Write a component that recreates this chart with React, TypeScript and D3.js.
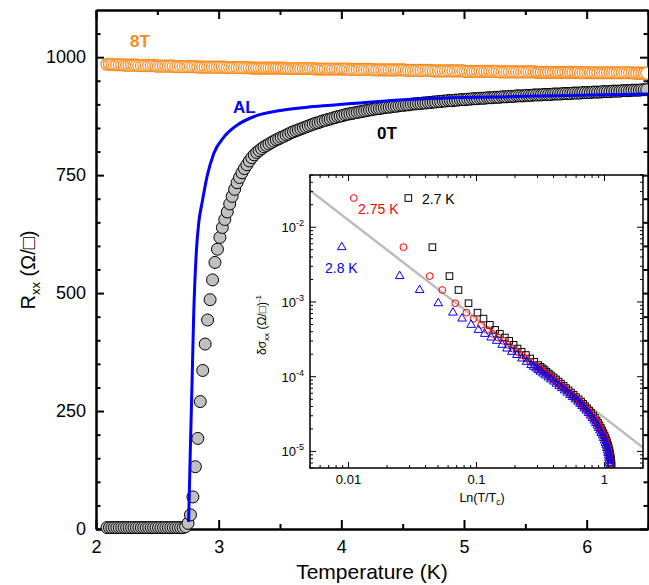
import { useEffect, useRef } from "react";
import * as d3 from "d3";

const WIDTH = 649;
const HEIGHT = 585;
const FONT = "'Liberation Sans', Arial, Helvetica, sans-serif";

// main panel: R_xx (ohm) sampled every 0.02 K starting at 2.09 K
const gridStart = 2.09;
const gridStep = 0.02;

const r8T = [
  985, 985, 985, 984, 984, 984, 984, 983, 983, 983,
  983, 983, 983, 982, 982, 982, 982, 982, 982, 982,
  981, 981, 981, 981, 981, 981, 981, 981, 980, 980,
  980, 980, 980, 980, 980, 980, 980, 979, 979, 979,
  979, 979, 979, 979, 979, 979, 979, 979, 979, 978,
  978, 978, 978, 978, 978, 978, 978, 978, 978, 977,
  977, 977, 977, 977, 977, 977, 977, 977, 977, 977,
  977, 977, 977, 976, 976, 976, 976, 976, 976, 976,
  976, 976, 976, 976, 976, 975, 975, 975, 975, 975,
  975, 975, 975, 975, 975, 975, 975, 975, 975, 974,
  974, 974, 974, 974, 974, 974, 974, 974, 974, 973,
  973, 973, 973, 973, 973, 973, 973, 973, 973, 973,
  973, 973, 972, 972, 972, 972, 972, 972, 972, 972,
  972, 972, 972, 971, 971, 971, 971, 971, 971, 971,
  971, 971, 971, 971, 971, 971, 970, 970, 970, 970,
  970, 970, 970, 970, 970, 970, 970, 970, 970, 970,
  969, 969, 969, 969, 969, 969, 969, 969, 969, 969,
  969, 969, 969, 969, 969, 968, 968, 968, 968, 968,
  968, 968, 968, 968, 968, 968, 968, 968, 968, 968,
  968, 968, 968, 967, 967, 967, 967, 967, 967, 967,
  967, 967, 967, 967, 967, 967, 967, 967, 967, 967,
  967, 967, 967, 967, 967, 966, 966, 966, 966, 966,
  966,
];

const r0T = [
  3, 3, 3, 3, 3, 3, 3, 3, 3, 3,
  3, 3, 3, 3, 3, 3, 3, 3, 3, 3,
  3, 3, 3, 3, 3, 3, 3, 3, 3, 3,
  3, 3, 5, 12, 30, 68, 132, 192, 270, 336,
  392, 443, 486, 528, 565, 593, 618, 639, 656, 672,
  689, 705, 720, 734, 745, 755, 764, 772, 780, 787,
  793, 798, 802, 806, 810, 813, 816, 819, 822, 825,
  827, 830, 832, 835, 837, 840, 842, 844, 846, 848,
  850, 852, 854, 856, 858, 860, 861, 863, 865, 866,
  868, 869, 871, 872, 874, 875, 876, 878, 879, 880,
  881, 882, 883, 884, 885, 886, 887, 888, 889, 890,
  891, 891, 892, 893, 894, 894, 895, 896, 896, 897,
  898, 898, 899, 899, 900, 901, 901, 902, 902, 903,
  903, 904, 904, 905, 905, 906, 906, 907, 907, 908,
  908, 908, 909, 909, 910, 910, 910, 911, 911, 912,
  912, 912, 913, 913, 913, 914, 914, 914, 915, 915,
  915, 916, 916, 916, 917, 917, 917, 918, 918, 918,
  918, 919, 919, 919, 920, 920, 920, 920, 921, 921,
  921, 921, 922, 922, 922, 922, 923, 923, 923, 923,
  924, 924, 924, 924, 925, 925, 925, 925, 926, 926,
  926, 926, 927, 927, 927, 927, 928, 928, 928, 928,
  929, 929, 929, 929, 930, 930, 930, 930, 931, 931,
  931,
];

// Aslamazov-Larkin fit, [T (K), R (ohm)]
const alCurve: [number, number][] = [
  [2.755, 15], [2.769, 168], [2.783, 310], [2.796, 450], [2.818, 588],
  [2.838, 650], [2.865, 692], [2.906, 748], [2.96, 796], [3.041, 830],
  [3.151, 856], [3.287, 874], [3.505, 887], [3.724, 894], [3.914, 898],
  [4.511, 910], [5.5, 917], [6.5, 922],
];

const xMajor = [2, 3, 4, 5, 6];
const xMinor = [2.5, 3.5, 4.5, 5.5, 6.5];
const yMajor = [0, 250, 500, 750, 1000];

// inset: fluctuation conductivity vs ln(T/Tc), same data for three Tc choices
const insetT = [
  2.7804, 2.8249, 2.8712, 2.9025, 2.9443, 2.9894, 3.0243, 3.066, 3.1052, 3.1439,
  3.1892, 3.2325, 3.2811, 3.3293, 3.3817, 3.4435, 3.5116, 3.5815, 3.6579, 3.7044,
  3.7509, 3.795, 3.8393, 3.897, 3.9551, 4.028, 4.1005, 4.183, 4.2648, 4.359,
  4.4531, 4.561, 4.6688, 4.793, 4.9165, 5.06, 5.2028, 5.333, 5.463, 5.612,
  5.7603, 5.927, 6.0945, 6.261, 6.4275, 6.586, 6.7449, 6.89, 7.0356, 7.195,
  7.3542, 7.491, 7.6276, 7.738, 7.8481, 7.949, 8.05, 8.13, 8.2093, 8.269,
  8.3283, 8.372, 8.4146,
];
const insetSigma = [
  0.0246, 0.00541, 0.00222, 0.001445, 0.000961, 0.00072, 0.000599, 0.000494, 0.000423, 0.000374,
  0.000334, 0.000302, 0.000267, 0.000238, 0.000215, 0.000195, 0.000175, 0.000158, 0.000143, 1.358e-4,
  1.29e-4, 1.226e-4, 1.166e-4, 1.102e-4, 1.041e-4, 9.79e-5, 9.2e-5, 8.62e-5, 8.07e-5, 7.53e-5,
  7.03e-5, 6.56e-5, 6.12e-5, 5.71e-5, 5.33e-5, 4.97e-5, 4.64e-5, 4.33e-5, 4.04e-5, 3.77e-5,
  3.52e-5, 3.26e-5, 3.02e-5, 2.8e-5, 2.59e-5, 2.4e-5, 2.22e-5, 2.06e-5, 1.905e-5, 1.764e-5,
  1.634e-5, 1.512e-5, 1.4e-5, 1.297e-5, 1.202e-5, 1.113e-5, 1.031e-5, 9.55e-6, 8.84e-6, 8.19e-6,
  7.59e-6, 7.03e-6, 6.51e-6,
];
const insetSeries = [
  { label: "2.7 K", tc: 2.7, color: "#000000", shape: "square", lx: 422, ly: 204 },
  { label: "2.75 K", tc: 2.75, color: "#ff0000", shape: "circle", lx: 358, ly: 214 },
  { label: "2.8 K", tc: 2.8, color: "#0000ff", shape: "triangle", lx: 325, ly: 273 },
];
const fitLine: [number, number][] = [
  [0.005, 0.0311],
  [2, 1.13e-5],
];
const insetXLabels = [0.01, 0.1, 1];
const insetYLabels = [1e-2, 1e-3, 1e-4, 1e-5];

const logTicks = (lo: number, hi: number) => {
  const out: { v: number; major: boolean }[] = [];
  for (let e = Math.floor(Math.log10(lo)); e <= Math.ceil(Math.log10(hi)); e++) {
    for (let k = 1; k < 10; k++) {
      const v = k * Math.pow(10, e);
      if (v >= lo * 0.999 && v <= hi * 1.001) out.push({ v, major: k === 1 });
    }
  }
  return out;
};

const App = () => {
  const svgRef = useRef<SVGSVGElement | null>(null);

  useEffect(() => {
    const svg = d3.select(svgRef.current);
    svg.selectAll("*").remove();

    const x = d3.scaleLinear().domain([2, 6.5]).range([96, 648]);
    const y = d3.scaleLinear().domain([0, 1100]).range([529, 10]);

    const defs = svg.append("defs");
    defs
      .append("clipPath")
      .attr("id", "mainClip")
      .append("rect")
      .attr("x", 90)
      .attr("y", 10)
      .attr("width", 558)
      .attr("height", 530);

    const styleAxis = (ax: any, fontSize: number, width: number) => {
      ax.attr("font-family", FONT).attr("font-size", fontSize);
      ax.select(".domain").attr("stroke", "#000").attr("stroke-width", width);
      ax.selectAll(".tick line").attr("stroke", "#000").attr("stroke-width", width);
      ax.selectAll(".tick text").attr("fill", "#000");
    };

    const yMinor = d3.range(50, 1100, 50).filter((v) => v % 250 !== 0);
    const fmt = d3.format("d");
    const none = () => "";

    // bottom
    svg
      .append("g")
      .attr("transform", "translate(0,529)")
      .call(d3.axisBottom(x).tickValues(xMajor).tickSizeInner(-9).tickSizeOuter(0).tickPadding(11).tickFormat(fmt as any))
      .call((ax) => styleAxis(ax, 18, 2));
    svg
      .append("g")
      .attr("transform", "translate(0,529)")
      .call(d3.axisBottom(x).tickValues(xMinor).tickSizeInner(-5).tickSizeOuter(0).tickFormat(none))
      .call((ax) => styleAxis(ax, 18, 2));
    // top
    svg
      .append("g")
      .attr("transform", "translate(0,10)")
      .call(d3.axisTop(x).tickValues(xMajor).tickSizeInner(-9).tickSizeOuter(0).tickFormat(none))
      .call((ax) => styleAxis(ax, 18, 2));
    svg
      .append("g")
      .attr("transform", "translate(0,10)")
      .call(d3.axisTop(x).tickValues(xMinor).tickSizeInner(-5).tickSizeOuter(0).tickFormat(none))
      .call((ax) => styleAxis(ax, 18, 2));
    // left
    svg
      .append("g")
      .attr("transform", "translate(96,0)")
      .call(d3.axisLeft(y).tickValues(yMajor).tickSizeInner(-8).tickSizeOuter(0).tickPadding(10).tickFormat(fmt as any))
      .call((ax) => styleAxis(ax, 18, 2));
    svg
      .append("g")
      .attr("transform", "translate(96,0)")
      .call(d3.axisLeft(y).tickValues(yMinor).tickSizeInner(-4.5).tickSizeOuter(0).tickFormat(none))
      .call((ax) => styleAxis(ax, 18, 2));
    // right
    svg
      .append("g")
      .attr("transform", "translate(648,0)")
      .call(d3.axisRight(y).tickValues(yMajor).tickSizeInner(-8).tickSizeOuter(0).tickFormat(none))
      .call((ax) => styleAxis(ax, 18, 2));
    svg
      .append("g")
      .attr("transform", "translate(648,0)")
      .call(d3.axisRight(y).tickValues(yMinor).tickSizeInner(-4.5).tickSizeOuter(0).tickFormat(none))
      .call((ax) => styleAxis(ax, 18, 2));

    const plot = svg.append("g").attr("clip-path", "url(#mainClip)");

    const pts8 = r8T.map((r, i) => [gridStart + i * gridStep, r]);
    const pts0 = r0T.map((r, i) => [gridStart + i * gridStep, r]);

    plot
      .append("g")
      .selectAll("circle")
      .data(pts8)
      .enter()
      .append("circle")
      .attr("cx", (d) => x(d[0]))
      .attr("cy", (d) => y(d[1]))
      .attr("r", 6)
      .attr("fill", "#fff")
      .attr("stroke", "#ff8a1c")
      .attr("stroke-width", 1.2);

    plot
      .append("g")
      .selectAll("circle")
      .data(pts0)
      .enter()
      .append("circle")
      .attr("cx", (d) => x(d[0]))
      .attr("cy", (d) => y(d[1]))
      .attr("r", 6)
      .attr("fill", "#c0c0c0")
      .attr("stroke", "#000")
      .attr("stroke-width", 1);

    const alLine = d3
      .line<[number, number]>()
      .x((d) => x(d[0]))
      .y((d) => y(d[1]))
      .curve(d3.curveMonotoneX);

    plot
      .append("path")
      .datum(alCurve)
      .attr("d", alLine)
      .attr("fill", "none")
      .attr("stroke", "#0000ff")
      .attr("stroke-width", 3);

    const label = (txt: string, lx: number, ly: number, color: string) =>
      svg
        .append("text")
        .attr("x", lx)
        .attr("y", ly)
        .attr("font-family", FONT)
        .attr("font-size", 17)
        .attr("font-weight", "bold")
        .attr("fill", color)
        .text(txt);
    label("8T", 130, 47, "#ff8a1c");
    label("AL", 233, 113, "#0000ff");
    label("0T", 377, 139, "#000");

    // axis titles
    svg
      .append("text")
      .attr("x", 372)
      .attr("y", 579)
      .attr("text-anchor", "middle")
      .attr("font-family", FONT)
      .attr("font-size", 21)
      .text("Temperature (K)");

    const yTitle = svg
      .append("text")
      .attr("transform", "translate(35,270) rotate(-90)")
      .attr("text-anchor", "middle")
      .attr("font-family", FONT)
      .attr("font-size", 20);
    yTitle.append("tspan").text("R");
    yTitle.append("tspan").attr("font-size", 13).attr("dy", 5).text("xx");
    yTitle.append("tspan").attr("dy", -5).text(" (Ω/□)");

    // ---------- inset ----------
    const ix0 = 310, ix1 = 643, iy0 = 175, iy1 = 468;
    const xI = d3.scaleLog().domain([0.005, 2]).range([ix0, ix1]);
    const yI = d3.scaleLog().domain([6e-6, 0.05]).range([iy1, iy0]);

    defs
      .append("clipPath")
      .attr("id", "insetClip")
      .append("rect")
      .attr("x", ix0)
      .attr("y", iy0)
      .attr("width", ix1 - ix0)
      .attr("height", iy1 - iy0);

    svg
      .append("rect")
      .attr("x", ix0)
      .attr("y", iy0)
      .attr("width", ix1 - ix0)
      .attr("height", iy1 - iy0)
      .attr("fill", "#fff");

    const inset = svg.append("g").attr("clip-path", "url(#insetClip)");

    inset
      .append("path")
      .datum(fitLine)
      .attr(
        "d",
        d3
          .line<[number, number]>()
          .x((d) => xI(d[0]))
          .y((d) => yI(d[1]))
      )
      .attr("stroke", "#bdbdbd")
      .attr("stroke-width", 2.5)
      .attr("fill", "none");

    const tri = d3.symbol().type(d3.symbolTriangle).size(32);

    insetSeries.forEach((s) => {
      const pts = insetT
        .map((t, i) => ({ x: Math.log(t / s.tc), y: insetSigma[i] }))
        .filter((p) => p.x > 0.004);
      const g = inset.append("g");
      if (s.shape === "square") {
        g.selectAll("rect")
          .data(pts)
          .enter()
          .append("rect")
          .attr("x", (d) => xI(d.x) - 3.3)
          .attr("y", (d) => yI(d.y) - 3.3)
          .attr("width", 6.6)
          .attr("height", 6.6)
          .attr("fill", "none")
          .attr("stroke", s.color)
          .attr("stroke-width", 1);
      } else if (s.shape === "circle") {
        g.selectAll("circle")
          .data(pts)
          .enter()
          .append("circle")
          .attr("cx", (d) => xI(d.x))
          .attr("cy", (d) => yI(d.y))
          .attr("r", 3.4)
          .attr("fill", "none")
          .attr("stroke", s.color)
          .attr("stroke-width", 1);
      } else {
        g.selectAll("path")
          .data(pts)
          .enter()
          .append("path")
          .attr("d", tri as any)
          .attr("transform", (d) => `translate(${xI(d.x)},${yI(d.y)})`)
          .attr("fill", "none")
          .attr("stroke", s.color)
          .attr("stroke-width", 1);
      }
      svg
        .append("text")
        .attr("x", s.lx)
        .attr("y", s.ly)
        .attr("font-family", FONT)
        .attr("font-size", 14)
        .attr("fill", s.color)
        .text(s.label);
    });

    // inset frame + ticks
    svg
      .append("rect")
      .attr("x", ix0)
      .attr("y", iy0)
      .attr("width", ix1 - ix0)
      .attr("height", iy1 - iy0)
      .attr("fill", "none")
      .attr("stroke", "#000")
      .attr("stroke-width", 1.5);

    const tg = svg.append("g").attr("stroke", "#000").attr("stroke-width", 1);
    logTicks(0.005, 2).forEach(({ v, major }) => {
      const px = xI(v);
      const len = major ? 6 : 3;
      tg.append("line").attr("x1", px).attr("x2", px).attr("y1", iy1).attr("y2", iy1 - len);
      tg.append("line").attr("x1", px).attr("x2", px).attr("y1", iy0).attr("y2", iy0 + len);
    });
    logTicks(6e-6, 0.05).forEach(({ v, major }) => {
      const py = yI(v);
      const len = major ? 6 : 3;
      tg.append("line").attr("x1", ix0).attr("x2", ix0 + len).attr("y1", py).attr("y2", py);
      tg.append("line").attr("x1", ix1).attr("x2", ix1 - len).attr("y1", py).attr("y2", py);
    });

    insetXLabels.forEach((v) => {
      svg
        .append("text")
        .attr("x", xI(v))
        .attr("y", iy1 + 16)
        .attr("text-anchor", "middle")
        .attr("font-family", FONT)
        .attr("font-size", 13)
        .text(String(v));
    });

    insetYLabels.forEach((v) => {
      const t = svg
        .append("text")
        .attr("x", ix0 - 6)
        .attr("y", yI(v) + 5)
        .attr("text-anchor", "end")
        .attr("font-family", FONT)
        .attr("font-size", 13);
      t.append("tspan").text("10");
      t.append("tspan").attr("dy", -6).attr("font-size", 9).text(String(Math.round(Math.log10(v))));
    });

    const ixTitle = svg
      .append("text")
      .attr("x", 482)
      .attr("y", 502)
      .attr("text-anchor", "middle")
      .attr("font-family", FONT)
      .attr("font-size", 12.5);
    ixTitle.append("tspan").text("Ln(T/T");
    ixTitle.append("tspan").attr("font-size", 8.5).attr("dy", 3).text("c");
    ixTitle.append("tspan").attr("dy", -3).text(")");

    const iyTitle = svg
      .append("text")
      .attr("transform", "translate(266,325) rotate(-90)")
      .attr("text-anchor", "middle")
      .attr("font-family", FONT)
      .attr("font-size", 12);
    iyTitle.append("tspan").text("δσ");
    iyTitle.append("tspan").attr("font-size", 8).attr("dy", 3).text("xx");
    iyTitle.append("tspan").attr("dy", -3).text(" (Ω/□)");
    iyTitle.append("tspan").attr("font-size", 8).attr("dy", -5).text("-1");
  }, []);

  return (
    <svg
      ref={svgRef}
      width={WIDTH}
      height={HEIGHT}
      style={{ position: "absolute", left: 0, top: 0, background: "#fff" }}
    />
  );
};

export default App;
